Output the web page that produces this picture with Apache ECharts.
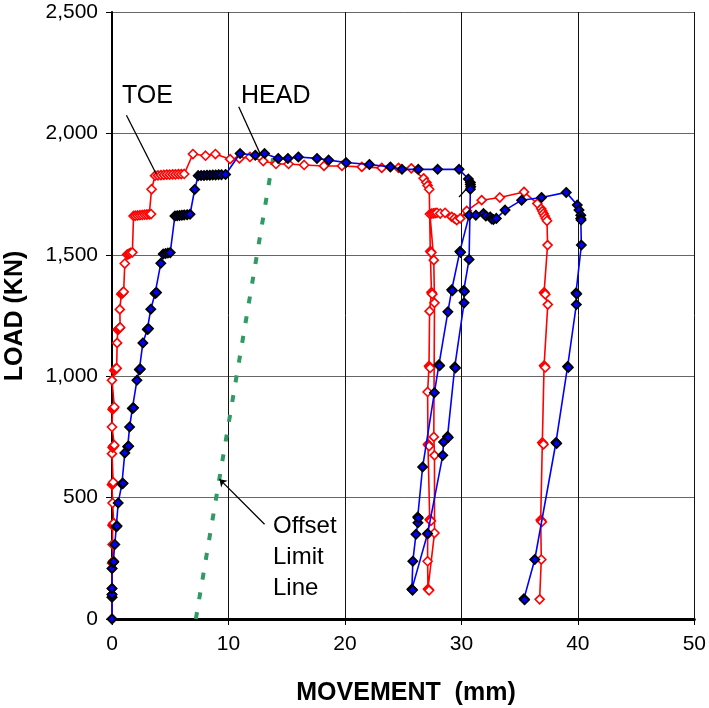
<!DOCTYPE html>
<html>
<head>
<meta charset="utf-8">
<script src="https://cdn.jsdelivr.net/npm/echarts@6/dist/echarts.min.js"></script>
<style>
  html, body { margin: 0; padding: 0; background: #fff; }
  #chart { width: 709px; height: 708px; }
</style>
</head>
<body>
<div id="chart"></div>
<script>
// Pile load test: load vs. movement for toe and head gauges

// TOE readings (mm, kN)
const toeMovement = [
  0, 0, 0, 0, 0.02,
  0.02, 0.05, 0.08, 0.1, 0.12,
  0.05,
  0.05, 0.08, 0.1, 0.12, 0.15,
  0.05,
  0.0, 0.05, 0.1, 0.15, 0.1,
  0.0,
  0.05, 0.1, 0.12, 0.15, 0.2,
  0.0,
  0.05, 0.1, 0.12, 0.15, 0.2,
  0.0,
  0.2, 0.25, 0.3, 0.35, 0.4,
  0.44,
  0.5, 0.55, 0.6, 0.65, 0.7,
  0.67,
  0.8, 0.85, 0.9, 0.95, 1.0,
  1.1,
  1.3, 1.4, 1.5, 1.6, 1.75,
  1.85, 2.0, 2.2, 2.4, 2.6, 2.8, 3.0, 3.2, 3.35, 3.4,
  3.7, 3.95, 4.2, 4.45, 4.7, 4.95, 5.2, 5.45, 5.7, 5.95, 6.2,
  6.95, 8.03, 8.88, 10.14, 10.94, 11.85, 12.99, 14.08, 15.16, 16.5, 18.2, 19.74, 21.45,
  23.16, 24.6, 25.7, 26.76, 27.0, 27.1, 27.24,
  27.33, 27.38, 27.42, 27.43, 27.47, 27.5, 27.27,
  27.22, 27.27, 27.32, 27.1,
  27.13, 27.18, 27.23, 27.28, 27.33, 27.38, 27.1, 27.1,
  27.13, 27.18, 27.23,
  27.69, 27.69, 27.63, 27.69, 27.63, 27.3, 27.45, 27.6, 27.75, 27.9,
  28.18, 28.6, 29.17, 29.4, 29.6, 29.9, 30.46, 31.74, 33.3, 35.38, 36.52, 36.85, 36.95, 37.05,
  37.15, 37.25, 37.35, 37.4, 37.1, 37.15, 37.2, 37.42, 37.1, 37.15, 37.2,
  36.95, 37.0, 37.05, 36.81, 36.86, 36.91, 36.86, 36.72
];
const toeLoad = [
  0, 90, 101, 126, 208,
  230, 232, 235, 237, 239,
  307,
  385, 388, 390, 392, 395,
  478,
  553, 556, 558, 561, 563,
  681,
  706, 709, 711, 714, 716,
  791,
  863, 866, 868, 871, 873,
  983,
  1023, 1026, 1028, 1031, 1033,
  1137,
  1191, 1194, 1196, 1199, 1201,
  1275,
  1338, 1341, 1343, 1346, 1348,
  1464,
  1501, 1503, 1505, 1508, 1510,
  1660, 1661, 1662, 1663, 1664, 1665, 1666, 1667, 1668, 1770,
  1826, 1827, 1828, 1829, 1830, 1830, 1831, 1831, 1832, 1832, 1833,
  1915, 1908, 1915, 1894, 1897, 1903, 1886, 1874, 1874, 1870, 1866, 1866, 1862,
  1858, 1858, 1856, 1815, 1798, 1785, 1770,
  1515, 1512, 1509, 1346, 1342, 1338, 1268,
  1042, 1038, 1034, 935,
  720, 716, 712, 410, 407, 404, 349, 238,
  124, 121, 118,
  354, 674, 750, 1302, 1478, 1668, 1670, 1671, 1672, 1673,
  1670, 1673, 1656, 1650, 1643, 1650, 1681, 1725, 1736, 1759, 1711, 1690, 1680, 1670,
  1660, 1650, 1640, 1540, 1345, 1341, 1337, 1295, 1044, 1040, 1036,
  727, 723, 719, 408, 404, 400, 245, 81
];

// HEAD readings (mm, kN)
const headMovement = [
  0, 0, 0, 0, 0, 0.1, 0.12, 0.15, 0.24, 0.37, 0.4, 0.43, 0.53, 0.85, 0.9, 0.95, 1.1,
  1.35, 1.39, 1.43, 1.51, 1.75, 1.8, 1.85, 2.14, 2.35, 2.39, 2.43, 2.65, 3.03, 3.08, 3.13,
  3.33, 3.7, 3.76, 3.82, 4.19, 4.4, 4.6, 4.8, 5.0,
  5.4, 5.6, 5.8, 6.0, 6.2, 6.45, 6.7, 7.1,
  7.4, 7.65, 7.9, 8.15, 8.4, 8.65, 8.9, 9.15, 9.4, 9.75,
  11.0, 12.3, 13.1, 14.27, 15.1, 16.0, 17.6, 18.6, 20.1, 22.1, 23.9, 24.9, 26.3, 27.96, 29.8,
  30.6, 30.77, 30.77, 30.8, 30.77,
  30.66, 30.2, 30.26, 30.23, 29.43, 29.49, 28.81, 28.87, 28.47, 28.4, 27.1, 25.75, 25.81,
  25.83, 26.1, 26.27, 26.25, 26.3, 26.67, 27.68, 28.07, 28.13, 28.84, 29.17, 29.23, 29.87, 29.93,
  30.67, 31.24, 31.9, 32.1, 32.47, 32.6, 32.75, 33.0, 33.75, 35.17, 36.88, 39.0,
  39.95, 40.1, 40.25, 40.25, 40.28, 40.3, 39.84, 39.9, 39.87, 39.12, 39.18, 38.12, 38.18,
  36.3, 35.37, 35.43
];
const headLoad = [
  0, 90, 101, 126, 208, 233, 235, 236, 307, 380, 382, 383, 478, 556, 558, 559, 684,
  709, 711, 712, 791, 867, 869, 870, 983, 1027, 1029, 1030, 1137, 1192, 1194, 1196,
  1276, 1341, 1343, 1345, 1465, 1503, 1505, 1507, 1509,
  1660, 1661, 1662, 1663, 1664, 1665, 1667, 1769,
  1826, 1827, 1827, 1828, 1828, 1829, 1829, 1830, 1830, 1831,
  1917, 1910, 1917, 1897, 1897, 1903, 1897, 1890, 1880, 1872, 1862, 1852, 1852, 1852, 1852,
  1812, 1798, 1790, 1780, 1770,
  1481, 1353, 1349, 1302, 1038, 1034, 752, 748, 729, 674, 352, 123, 119,
  238, 349, 396, 420, 416, 626, 932, 1047, 1043, 1265, 1356, 1352, 1514, 1510,
  1663, 1663, 1670, 1660, 1656, 1648, 1645, 1650, 1684, 1725, 1736, 1757,
  1705, 1684, 1663, 1650, 1643, 1540, 1343, 1339, 1295, 1040, 1036, 727, 723,
  245, 83, 79
];

// Offset limit line end points (mm, kN)
const offsetMovement = [7.2, 14.0];
const offsetLoad = [0, 1945];

// Axis ticks
const xTicks = [0, 10, 20, 30, 40, 50];
const yTicks = [0, 500, 1000, 1500, 2000, 2500];

const pairs = (xs, ys) => xs.map((x, i) => [x, ys[i]]);

const FONT = 'Liberation Sans, Arial, sans-serif';
const chart = echarts.init(document.getElementById('chart'), null, { renderer: 'canvas' });

chart.setOption({
  animation: false,
  backgroundColor: '#ffffff',
  grid: { left: 112, top: 12, right: 12, bottom: 89, containLabel: false },
  xAxis: {
    type: 'value',
    min: xTicks[0], max: xTicks[xTicks.length - 1], interval: 10,
    axisLine: { show: true, onZero: false, lineStyle: { color: '#000', width: 3 } },
    axisTick: { show: true, inside: false, length: 6, lineStyle: { color: '#000', width: 1 } },
    axisLabel: { color: '#000', fontSize: 21, fontFamily: FONT, margin: 15 },
    splitLine: { show: true, lineStyle: { color: '#111', width: 1 } }
  },
  yAxis: {
    type: 'value',
    min: yTicks[0], max: yTicks[yTicks.length - 1], interval: 500,
    axisLine: { show: true, onZero: false, lineStyle: { color: '#000', width: 2 } },
    axisTick: { show: true, inside: false, length: 6, lineStyle: { color: '#000', width: 1 } },
    axisLabel: {
      color: '#000', fontSize: 21, fontFamily: FONT, margin: 14,
      formatter: v => v.toLocaleString('en-US')
    },
    splitLine: { show: true, lineStyle: { color: '#666', width: 1 } }
  },
  series: [
    {
      name: 'Offset Limit Line',
      type: 'line',
      data: pairs(offsetMovement, offsetLoad),
      showSymbol: false,
      lineStyle: { color: '#2f9a63', width: 4, type: [7, 13] },
      z: 2,
      markLine: {
        silent: true,
        animation: false,
        symbol: ['none', 'none'],
        label: { show: false },
        lineStyle: { color: '#000', width: 1.3, type: 'solid' },
        data: [
          [{ coord: [1.24, 2075] }, { coord: [3.81, 1832] }],
          [{ coord: [10.88, 2110] }, { coord: [12.73, 1915] }],
          [{ coord: [29.8, 1738] }, { coord: [30.74, 1787] }],
          [{ coord: [13.1, 390] }, { coord: [9.23, 576], symbol: 'arrow', symbolSize: 7 }]
        ]
      }
    },
    {
      name: 'TOE',
      type: 'line',
      data: pairs(toeMovement, toeLoad),
      symbol: 'diamond',
      symbolSize: 9,
      lineStyle: { color: '#ff0000', width: 1.6 },
      itemStyle: { color: '#ffffff', borderColor: '#ff0000', borderWidth: 1.6 },
      z: 3
    },
    {
      name: 'HEAD',
      type: 'line',
      data: pairs(headMovement, headLoad),
      symbol: 'diamond',
      symbolSize: 9,
      lineStyle: { color: '#0000ff', width: 1.6 },
      itemStyle: { color: '#0000ff', borderColor: '#000000', borderWidth: 1.8 },
      z: 4
    }
  ],
  graphic: [
    { type: 'text', left: 122, top: 84, style: { text: 'TOE', fontSize: 25, fontFamily: FONT, fill: '#000' } },
    { type: 'text', left: 241, top: 84, style: { text: 'HEAD', fontSize: 25, fontFamily: FONT, fill: '#000' } },
    { type: 'text', left: 273, top: 511, style: { text: 'Offset\nLimit\nLine', fontSize: 24, lineHeight: 31, fontFamily: FONT, fill: '#000' } },
    {
      type: 'text', x: 15, y: 316, rotation: Math.PI / 2,
      style: { text: 'LOAD (KN)', fontSize: 25, fontWeight: 'bold', fontFamily: FONT, fill: '#000', align: 'center', verticalAlign: 'middle' }
    },
    {
      type: 'text', x: 406, y: 693,
      style: { text: 'MOVEMENT  (mm)', fontSize: 25, fontWeight: 'bold', fontFamily: FONT, fill: '#000', align: 'center', verticalAlign: 'middle' }
    }
  ]
});
</script>
</body>
</html>
